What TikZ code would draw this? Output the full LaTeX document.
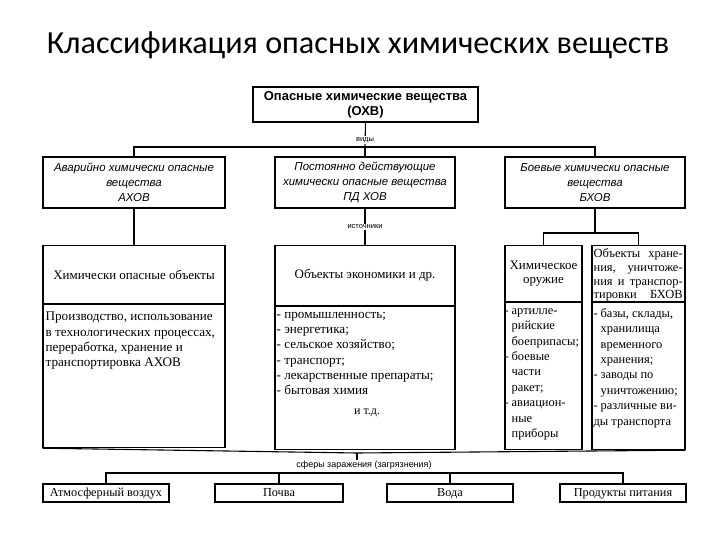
\documentclass[tikz,border=0pt]{standalone}
\usepackage{fontspec}
\setmainfont{Liberation Serif}
\setsansfont{Liberation Sans}
\newfontfamily\titlefont{Carlito}
\newcommand\dd{\makebox[7bp][l]{-}}
\newcommand\ii{\hspace*{7bp}}
\newcommand\jl[1]{\hbox to 89bp{#1}}
\begin{document}
\begin{tikzpicture}[x=1bp,y=-1bp,
  box/.style={draw, line width=1.1pt, inner sep=0pt},
  con/.style={line width=1.1pt},
  kindtxt/.style={font=\sffamily\itshape\fontsize{11.5}{15}\selectfont, align=center},
  sphtxt/.style={font=\fontsize{12.3}{14}\selectfont, text height=9bp, text depth=3bp},
  hdtxt/.style={font=\fontsize{13}{14}\selectfont, align=center},
  lbl/.style={font=\sffamily\fontsize{7.5}{8}\selectfont, fill=white, inner sep=1pt},
  bodytxt/.style={font=\fontsize{13.2}{15.3}\selectfont, align=left, inner sep=0pt, anchor=north west},
  narrowtxt/.style={font=\fontsize{12.5}{15.5}\selectfont, align=left, inner sep=0pt, anchor=north west}]
\useasboundingbox (0,0) rectangle (720,540);

% title
\node[font=\titlefont\fontsize{32.3}{38}\selectfont] (title) at (358,45) {Классификация опасных химических веществ};

% top box
\node[box, minimum width=225bp, minimum height=35bp,
      font=\sffamily\bfseries\fontsize{13}{15}\selectfont, align=center] (ohv) at (365.5,104.5)
      {Опасные химические вещества\\(ОХВ)};

% kinds
\node[box, minimum width=182bp, minimum height=51bp, kindtxt] (ahov) at (134,182.5)
      {Аварийно химически опасные\\вещества\\АХОВ};
\node[box, minimum width=180bp, minimum height=51bp, kindtxt] (pdhov) at (365,182.5)
      {Постоянно действующие\\химически опасные вещества\\ПД ХОВ};
\node[box, minimum width=180bp, minimum height=51bp, kindtxt] (bhov) at (595,182.5)
      {Боевые химически опасные\\вещества\\БХОВ};

\coordinate (bus1) at (365,147);
\draw[con] (ohv.south) -- (bus1);
\draw[con] (ahov.north) -- (ahov.north |- bus1) -- (bhov.north |- bus1) -- (bhov.north);
\draw[con] (bus1) -- (pdhov.north);
\node[lbl] (vidy) at (365,140) {виды};

% lower boxes: left
\node[box, minimum width=182bp, minimum height=58bp, anchor=north, hdtxt] (lh) at (134,245)
      {Химически опасные объекты};
\node[box, minimum width=182bp, minimum height=143bp, anchor=north] (lb) at (lh.south) {};
\node[bodytxt] (lbt) at ([shift={(3,8)}]lb.north west)
      {Производство, использование\\в технологических процессах,\\переработка, хранение и\\транспортировка АХОВ};

% middle
\node[box, minimum width=180bp, minimum height=60bp, anchor=north, hdtxt] (mh) at (365,245)
      {Объекты экономики и др.};
\node[box, minimum width=180bp, minimum height=143bp, anchor=north] (mb) at (mh.south) {};
\node[bodytxt] (mbt) at ([shift={(2,6)}]mb.north west)
      {- промышленность;\\- энергетика;\\- сельское хозяйство;\\- транспорт;\\- лекарственные препараты;\\- бытовая химия};
\node[font=\fontsize{12}{14}\selectfont] (etc) at (367,413) {и т.д.};

% right A
\node[box, minimum width=77bp, minimum height=56bp, anchor=north, hdtxt] (rah) at (543.5,245)
      {Химическое\\оружие};
\node[box, minimum width=77bp, minimum height=147bp, anchor=north] (rab) at (rah.south) {};
\node[narrowtxt] (rabt) at ([shift={(0,6)}]rab.north west)
      {\dd артилле-\\\ii рийские\\\ii боеприпасы;\\\dd боевые\\\ii части\\\ii ракет;\\\dd авиацион-\\\ii ные\\\ii приборы};

% right B
\node[box, minimum width=93bp, minimum height=56bp, anchor=north] (rbh) at (638.5,245) {};
\node[font=\fontsize{12.5}{14}\selectfont, inner sep=0pt, anchor=north west] (rbht) at ([shift={(2,3)}]rbh.north west)
      {\parbox{89bp}{\jl{Объекты\hfill хране-}\jl{ния,\hfill уничтоже-}\jl{ния\hfill и\hfill транспор-}\jl{тировки\hfill БХОВ}}};
\node[box, minimum width=93bp, minimum height=147bp, anchor=north] (rbb) at (rbh.south) {};
\node[narrowtxt] (rbbt) at ([shift={(2,6)}]rbb.north west)
      {\dd базы, склады,\\\ii хранилища\\\ii временного\\\ii хранения;\\\dd заводы по\\\ii уничтожению;\\\dd различные ви-\\ды транспорта};

\coordinate (bus2) at (595,233);
\draw[con] (ahov.south) -- (lh.north);
\draw[con] (pdhov.south) -- (mh.north);
\node[lbl] (ist) at (365,227) {источники};
\draw[con] (bhov.south) -- (bus2);
\draw[con] (rah.north) -- (rah.north |- bus2) -- (rbh.north |- bus2) -- (rbh.north);

% bottom collector
\coordinate (vm) at (357,453);
\coordinate (bus3) at (357,473);
\draw[con] (lb.south west) -- (vm) -- (rbb.south east);
\node[font=\sffamily\fontsize{9}{10}\selectfont, fill=white, inner sep=1pt] (sph) at (364,465)
      {сферы заражения (загрязнения)};
\draw[con] (vm) -- (vm |- sph.north);

% spheres
\node[box, minimum width=126bp, minimum height=18bp, sphtxt] (b1) at (106,493) {Атмосферный воздух};
\node[box, minimum width=128bp, minimum height=18bp, sphtxt] (b2) at (279,493) {Почва};
\node[box, minimum width=126bp, minimum height=18bp, sphtxt] (b3) at (450,493) {Вода};
\node[box, minimum width=126bp, minimum height=18bp, sphtxt] (b4) at (623,493) {Продукты питания};
\draw[con] (b1.north) -- (b1.north |- bus3) -- (b4.north |- bus3) -- (b4.north);
\draw[con] (b2.north) -- (b2.north |- bus3);
\draw[con] (b3.north) -- (b3.north |- bus3);
\end{tikzpicture}
\end{document}
